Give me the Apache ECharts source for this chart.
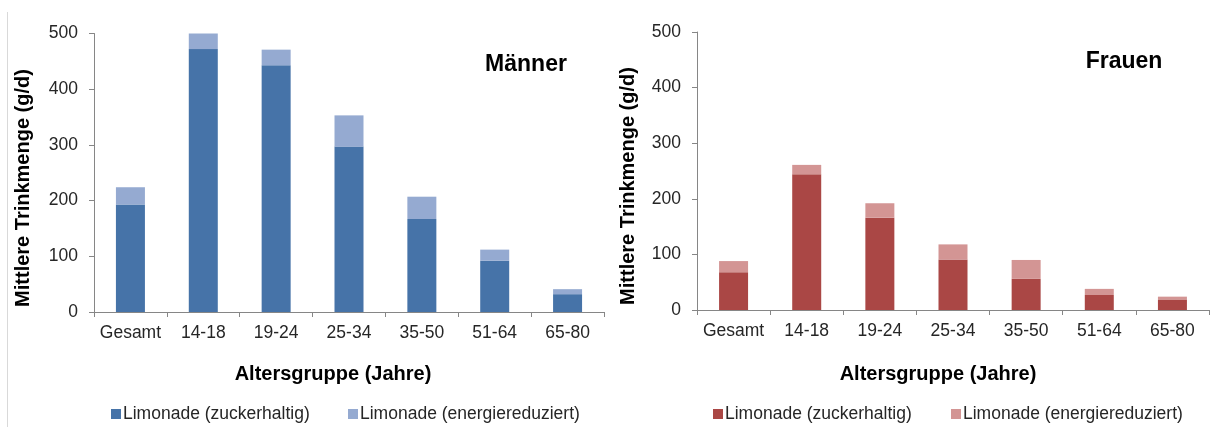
<!DOCTYPE html>
<html>
<head>
<meta charset="utf-8">
<script src="https://cdn.jsdelivr.net/npm/echarts@6/dist/echarts.min.js"></script>
<style>
html,body{margin:0;padding:0;background:#fff;}
#chart{width:1211px;height:427px;}
</style>
</head>
<body>
<div id="chart"></div>
<script>
const categories = ['Gesamt', '14-18', '19-24', '25-34', '35-50', '51-64', '65-80'];
const yTicks = [0, 100, 200, 300, 400, 500];
const seriesNames = ['Limonade (zuckerhaltig)', 'Limonade (energiereduziert)'];
const maennerZucker = [193, 472, 443, 297, 167, 92, 32];
const maennerEnergie = [31, 28, 28, 56, 40, 20, 9];
const frauenZucker = [68, 244, 166, 91, 56, 27, 19];
const frauenEnergie = [20, 17, 26, 27, 34, 11, 5];
const panelTitles = ['Männer', 'Frauen'];
const xTitle = 'Altersgruppe (Jahre)';
const yTitle = 'Mittlere Trinkmenge (g/d)';

const FONT = '"Liberation Sans", Arial, sans-serif';
const blueDark = '#4673A8', blueLight = '#95AAD1';
const redDark = '#AA4745', redLight = '#D39594';
const axisColor = '#868686';
const labelColor = '#262626';

function xAxis(gi) {
  return {
    type: 'category', gridIndex: gi, data: categories, boundaryGap: true,
    axisLine: {show: true, lineStyle: {color: axisColor, width: 1}},
    axisTick: {show: true, length: 5, interval: 0, lineStyle: {color: axisColor}},
    axisLabel: {color: labelColor, fontSize: 17.5, fontFamily: FONT, margin: 12, interval: 0},
    splitLine: {show: false}
  };
}
function yAxis(gi) {
  return {
    type: 'value', gridIndex: gi, min: yTicks[0], max: yTicks[yTicks.length - 1], interval: 100,
    axisLine: {show: true, lineStyle: {color: axisColor, width: 1}},
    axisTick: {show: true, length: 5, lineStyle: {color: axisColor}},
    axisLabel: {color: labelColor, fontSize: 17.5, fontFamily: FONT, margin: 16},
    splitLine: {show: false}
  };
}
function bar(name, data, gi, stack, color) {
  return {
    type: 'bar', name: name, xAxisIndex: gi, yAxisIndex: gi, stack: stack,
    data: data, barWidth: 29, itemStyle: {color: color},
    emphasis: {disabled: true}, animation: false
  };
}
function legend(name, color, left) {
  return {
    data: [{name: name, itemStyle: {color: color}}],
    left: left, top: 405, icon: 'rect', itemWidth: 10, itemHeight: 10,
    selectedMode: false, padding: 0,
    textStyle: {color: labelColor, fontSize: 17.5, fontFamily: FONT, padding: [0, 0, 0, -3]}
  };
}

const chart = echarts.init(document.getElementById('chart'), null, {renderer: 'canvas'});
chart.setOption({
  backgroundColor: '#fff',
  animation: false,
  grid: [
    {left: 94, top: 33.5, width: 510, height: 278.5},
    {left: 697, top: 32, width: 512, height: 278}
  ],
  xAxis: [xAxis(0), xAxis(1)],
  yAxis: [yAxis(0), yAxis(1)],
  legend: [
    legend(seriesNames[0], blueDark, 111),
    legend(seriesNames[1], blueLight, 348),
    legend(seriesNames[0], redDark, 713),
    legend(seriesNames[1], redLight, 951)
  ],
  series: [
    bar(seriesNames[0], maennerZucker, 0, 'm', blueDark),
    bar(seriesNames[1], maennerEnergie, 0, 'm', blueLight),
    bar(seriesNames[0], frauenZucker, 1, 'f', redDark),
    bar(seriesNames[1], frauenEnergie, 1, 'f', redLight)
  ],
  graphic: [
    {type: 'line', shape: {x1: 7.5, y1: 12, x2: 7.5, y2: 427}, style: {stroke: '#d9d9d9', lineWidth: 1}},
    {type: 'text', x: 526, y: 65, style: {text: panelTitles[0], font: 'bold 23px ' + FONT, fill: '#000', align: 'center', verticalAlign: 'middle'}},
    {type: 'text', x: 1124, y: 62, style: {text: panelTitles[1], font: 'bold 23px ' + FONT, fill: '#000', align: 'center', verticalAlign: 'middle'}},
    {type: 'text', x: 333, y: 374, style: {text: xTitle, font: 'bold 20px ' + FONT, fill: '#000', align: 'center', verticalAlign: 'middle'}},
    {type: 'text', x: 938, y: 374, style: {text: xTitle, font: 'bold 20px ' + FONT, fill: '#000', align: 'center', verticalAlign: 'middle'}},
    {type: 'text', x: 23, y: 188, rotation: Math.PI / 2, style: {text: yTitle, font: 'bold 20px ' + FONT, fill: '#000', align: 'center', verticalAlign: 'middle'}},
    {type: 'text', x: 628, y: 186, rotation: Math.PI / 2, style: {text: yTitle, font: 'bold 20px ' + FONT, fill: '#000', align: 'center', verticalAlign: 'middle'}}
  ]
});
</script>
</body>
</html>
